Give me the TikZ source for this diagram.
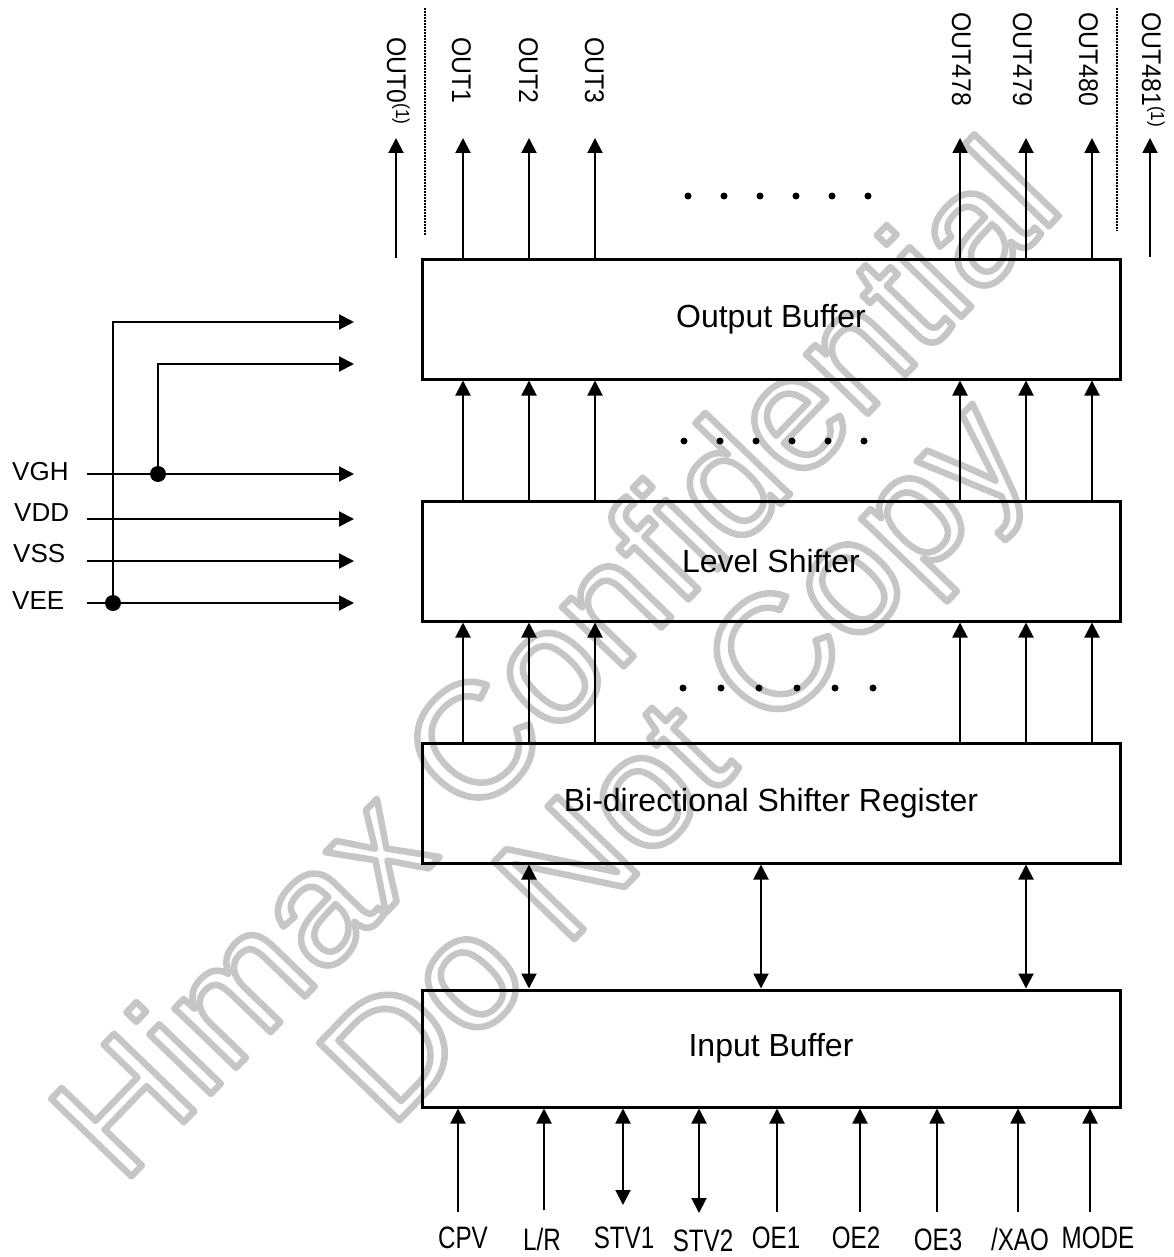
\documentclass[tikz,border=0pt]{standalone}
\usepackage{fontspec}
\setmainfont{Liberation Sans}
\usetikzlibrary{arrows.meta}
\definecolor{wmgray}{RGB}{198,198,198}
\newcommand{\outlinetext}[1]{\special{pdf:literal direct 1 Tr 6.5 w 1 j 1 J}#1\special{pdf:literal direct 0 Tr}}
\begin{document}
\begin{tikzpicture}[x=1pt,y=-1pt,
  blk/.style={draw, line width=3pt, minimum width=698pt, minimum height=120pt, inner sep=0pt, font=\fontsize{32}{38}\selectfont},
  sig/.style={line width=2pt, -{Triangle[width=15pt,length=15pt]}},
  bisig/.style={line width=2pt, {Triangle[width=15pt,length=15pt]}-{Triangle[width=15pt,length=15pt]}},
  outlbl/.style={rotate=-90, anchor=base west, inner sep=0pt, font=\fontsize{27}{30}\selectfont},
  pwrlbl/.style={anchor=base west, inner sep=0pt, font=\fontsize{26}{30}\selectfont},
  inlbl/.style={inner sep=0pt, font=\fontsize{31}{34}\selectfont},
  dotmark/.style={circle, fill, inner sep=0pt, minimum size=7pt},
  junc/.style={circle, fill, inner sep=0pt, minimum size=16pt},
  sepline/.style={line width=1.6pt, dash pattern=on 1.6pt off 1.4pt},
  wm/.style={rotate=46, anchor=base west, inner sep=0pt, text=wmgray, font=\fontsize{162}{162}\selectfont}
]
\useasboundingbox (0,0) rectangle (1173,1257);
\fill[white] (0,0) rectangle (1173,1257);

% watermark
\node[wm] (wm1) at (122,1186) {\outlinetext{Himax Confidential}};
\node[wm] (wm2) at (390,1130) {\outlinetext{Do Not Copy}};

% blocks
\node[blk] (ob) at (771,319) {Output Buffer};
\node[blk] (ls) at (771,561) {Level Shifter};
\node[blk] (br) at (771,803) {Bi-directional Shifter Register};
\node[blk, minimum height=117pt] (ib) at (771,1048.5) {Input Buffer};

% columns
\coordinate (c1) at (463,0);
\coordinate (c2) at (529,0);
\coordinate (c3) at (595,0);
\coordinate (c4) at (960,0);
\coordinate (c5) at (1026,0);
\coordinate (c6) at (1092,0);
\coordinate (tipy) at (0,138);

% outputs
\foreach \c in {c1,c2,c3,c4,c5,c6}{
  \draw[sig] (\c |- ob.north) -- (\c |- tipy);
  \draw[sig] (\c |- ls.north) -- (\c |- ob.south);
  \draw[sig] (\c |- br.north) -- (\c |- ls.south);
}
\coordinate (o0b) at (396,258);
\coordinate (o0t) at (396,138);
\coordinate (o481b) at (1150,257);
\coordinate (o481t) at (1150,138);
\draw[sig] (o0b) -- (o0t);
\draw[sig] (o481b) -- (o481t);

% separators
\coordinate (s1t) at (425,8); \coordinate (s1b) at (425,235);
\coordinate (s2t) at (1117,8); \coordinate (s2b) at (1117,231);
\draw[sepline] (s1t) -- (s1b);
\draw[sepline] (s2t) -- (s2b);

% output labels
\node[outlbl] (l0) at (387,37) {\scalebox{0.92}[1]{OUT0\textsuperscript{(1)}}};
\node[outlbl] (l1) at (452,37) {\scalebox{0.92}[1]{OUT1}};
\node[outlbl] (l2) at (519,37) {\scalebox{0.92}[1]{OUT2}};
\node[outlbl] (l3) at (585,37) {\scalebox{0.92}[1]{OUT3}};
\node[outlbl] (l478) at (952,12) {\scalebox{0.92}[1]{OUT478}};
\node[outlbl] (l479) at (1013,12) {\scalebox{0.92}[1]{OUT479}};
\node[outlbl] (l480) at (1079,12) {\scalebox{0.92}[1]{OUT480}};
\node[outlbl] (l481) at (1142,12) {\scalebox{0.92}[1]{OUT481\textsuperscript{(1)}}};

% ellipsis dots
\foreach \k in {0,...,5}{
  \node[dotmark] (dA\k) at (688+36*\k,196) {};
  \node[dotmark] (dB\k) at (684+36*\k,441) {};
  \node[dotmark] (dC\k) at (683+38*\k,688) {};
}

% bidirectional links
\coordinate (d1) at (529,0);
\coordinate (d2) at (761,0);
\coordinate (d3) at (1026,0);
\foreach \c in {d1,d2,d3}{
  \draw[bisig] (\c |- br.south) -- (\c |- ib.north);
}

% power
\coordinate (vghS) at (87,474); \coordinate (vghE) at (354,474);
\coordinate (vddS) at (87,519); \coordinate (vddE) at (354,519);
\coordinate (vssS) at (87,561); \coordinate (vssE) at (354,561);
\coordinate (veeS) at (87,603); \coordinate (veeE) at (354,603);
\coordinate (t1e) at (354,322);
\coordinate (t2e) at (354,364);
\draw[sig] (vghS) -- (vghE);
\draw[sig] (vddS) -- (vddE);
\draw[sig] (vssS) -- (vssE);
\draw[sig] (veeS) -- (veeE);
\node[junc] (jgh) at (158,474) {};
\node[junc] (jee) at (113,603) {};
\draw[sig] (jee.center) |- (t1e);
\draw[sig] (jgh.center) |- (t2e);
\node[pwrlbl] (lvgh) at (12,480) {VGH};
\node[pwrlbl] (lvdd) at (14,521) {VDD};
\node[pwrlbl] (lvss) at (13,562) {VSS};
\node[pwrlbl] (lvee) at (12,609) {VEE};

% inputs
\coordinate (iCPV) at (458,1212);
\coordinate (iLR) at (544,1210);
\coordinate (iSTVa) at (623,1205);
\coordinate (iSTVb) at (699,1213);
\coordinate (iOEa) at (777,1212);
\coordinate (iOEb) at (860,1212);
\coordinate (iOEc) at (937,1212);
\coordinate (iXAO) at (1018,1212);
\coordinate (iMODE) at (1090,1212);
\foreach \c in {iCPV,iLR,iOEa,iOEb,iOEc,iXAO,iMODE}{
  \draw[sig] (\c) -- (\c |- ib.south);
}
\draw[bisig] (iSTVa |- ib.south) -- (iSTVa);
\draw[bisig] (iSTVb |- ib.south) -- (iSTVb);

\node[inlbl] (tCPV) at (463,1238) {\scalebox{0.78}[1]{CPV}};
\node[inlbl] (tLR) at (542,1239) {\scalebox{0.78}[1]{L/R}};
\node[inlbl] (tSTVa) at (624,1238) {\scalebox{0.78}[1]{STV1}};
\node[inlbl] (tSTVb) at (703,1241) {\scalebox{0.78}[1]{STV2}};
\node[inlbl] (tOEa) at (776,1238) {\scalebox{0.78}[1]{OE1}};
\node[inlbl] (tOEb) at (856,1238) {\scalebox{0.78}[1]{OE2}};
\node[inlbl] (tOEc) at (938,1240) {\scalebox{0.78}[1]{OE3}};
\node[inlbl] (tXAO) at (1020,1239) {\scalebox{0.78}[1]{/XAO}};
\node[inlbl] (tMODE) at (1098,1238) {\scalebox{0.78}[1]{MODE}};
\end{tikzpicture}
\end{document}
